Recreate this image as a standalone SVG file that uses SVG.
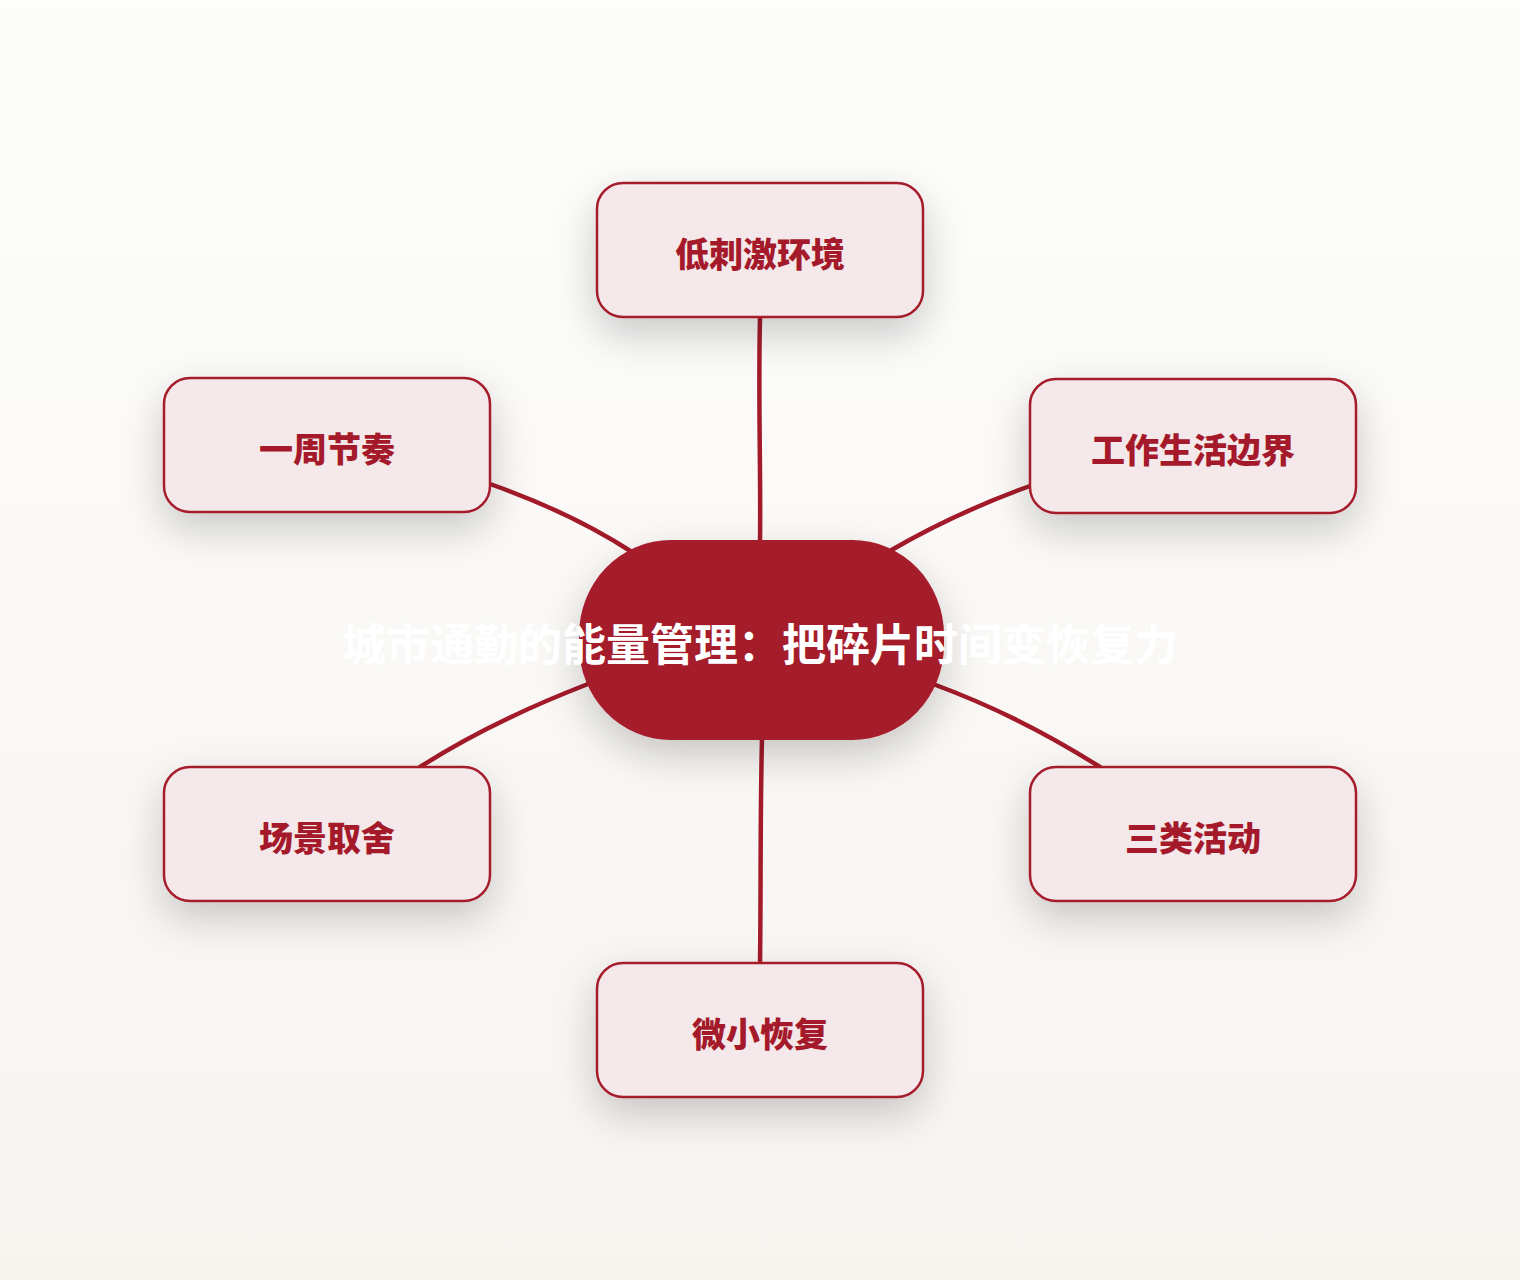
<svg xmlns="http://www.w3.org/2000/svg" width="1520" height="1280" viewBox="0 0 1520 1280">
<defs>
<linearGradient id="bg" x1="0" y1="0" x2="0" y2="1">
<stop offset="0" stop-color="#FDFDFC"/>
<stop offset="1" stop-color="#F7F4F0"/>
</linearGradient>
<filter id="sh" x="-40%" y="-40%" width="180%" height="210%">
<feDropShadow dx="0" dy="16" stdDeviation="20" flood-color="#000" flood-opacity="0.2"/>
</filter>
</defs>
<style>
.edge{fill:none;stroke:#A31A2A;stroke-width:4.5;stroke-linecap:round}
.box{fill:#F4E8EA;stroke:#A51A2A;stroke-width:2.5}
.lbl{font-family:"Noto Sans CJK SC","Noto Sans",sans-serif;font-weight:900;font-size:34px;fill:#A51A2A;text-anchor:middle;dominant-baseline:central}
.title{font-family:"Noto Sans CJK SC","Noto Sans",sans-serif;font-weight:700;font-size:44px;fill:#FFFFFF;text-anchor:middle;dominant-baseline:central}
</style>
<rect width="1520" height="1280" fill="url(#bg)"/>
<g id="connectors">
<path class="edge" d="M760,318 C758,400 761,470 760,542"/>
<path class="edge" d="M490,484 Q570,512 632,552"/>
<path class="edge" d="M1030,486 Q955,513 888,552"/>
<path class="edge" d="M420,767 Q490,722 588,684"/>
<path class="edge" d="M1100,767 Q1020,716 933,684"/>
<path class="edge" d="M762,738 C760,820 761,900 760,963"/>
</g>
<g id="n-top">
<rect class="box" x="597" y="183" width="326" height="134" rx="26" filter="url(#sh)"/>
<text class="lbl" x="760" y="252">低刺激环境</text>
</g>
<g id="n-ul">
<rect class="box" x="164" y="378" width="326" height="134" rx="26" filter="url(#sh)"/>
<text class="lbl" x="327" y="447">一周节奏</text>
</g>
<g id="n-ur">
<rect class="box" x="1030" y="379" width="326" height="134" rx="26" filter="url(#sh)"/>
<text class="lbl" x="1193" y="448">工作生活边界</text>
</g>
<g id="n-ll">
<rect class="box" x="164" y="767" width="326" height="134" rx="26" filter="url(#sh)"/>
<text class="lbl" x="327" y="836">场景取舍</text>
</g>
<g id="n-lr">
<rect class="box" x="1030" y="767" width="326" height="134" rx="26" filter="url(#sh)"/>
<text class="lbl" x="1193" y="836">三类活动</text>
</g>
<g id="n-bottom">
<rect class="box" x="597" y="963" width="326" height="134" rx="26" filter="url(#sh)"/>
<text class="lbl" x="760" y="1032">微小恢复</text>
</g>
<g id="n-center">
<rect x="579" y="540" width="365" height="200" rx="92" ry="95" fill="#A51A2A" filter="url(#sh)"/>
<text class="title" x="760" y="642">城市通勤的能量管理：把碎片时间变恢复力</text>
</g>
</svg>
